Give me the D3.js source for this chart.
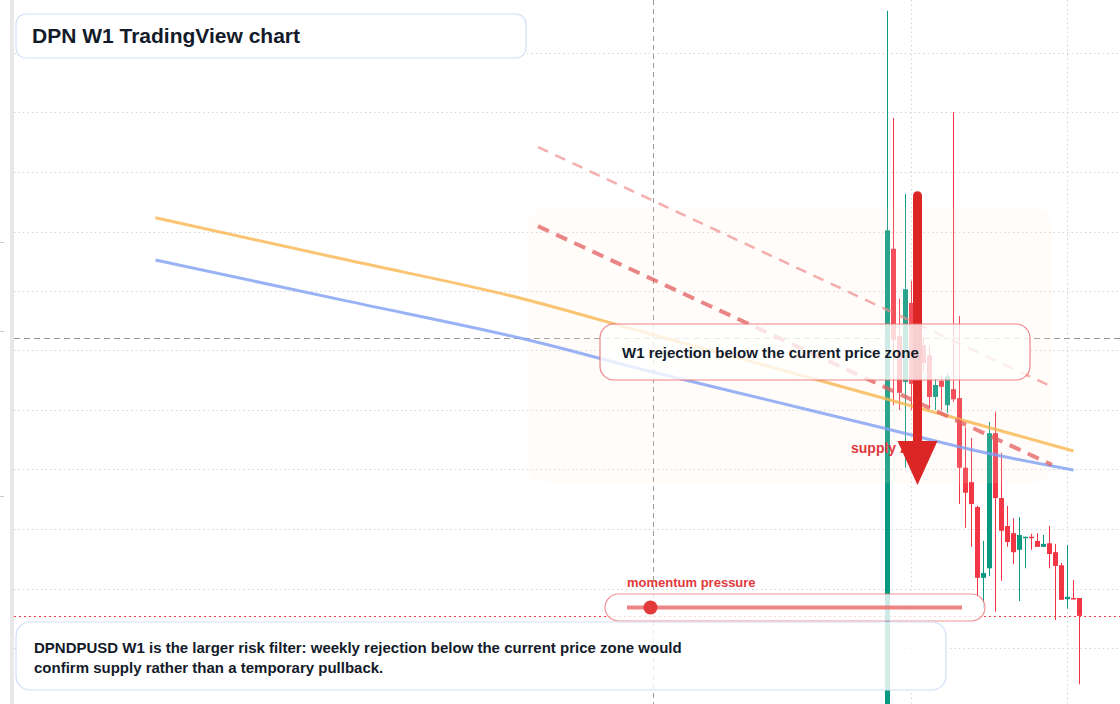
<!DOCTYPE html>
<html>
<head>
<meta charset="utf-8">
<script src="https://cdn.jsdelivr.net/npm/d3@7"></script>
<style>
  body { margin: 0; background: #fff; }
  svg { display: block; font-family: "Liberation Sans", Arial, sans-serif; }
</style>
</head>
<body>
<script>
// weekly candles, index 0 = first listed week
var opens  = [0.0050, 0.0871, 0.0724, 0.0647, 0.0780, 0.0644, 0.0709, 0.0692, 0.0622, 0.0649, 0.0608,
              0.0635, 0.0620, 0.0503, 0.0479, 0.0437, 0.0318, 0.0334, 0.0561, 0.0452, 0.0405, 0.0393,
              0.0365, 0.0385, 0.0387, 0.0380, 0.0370, 0.0376, 0.0361, 0.0339, 0.0282, 0.0284, 0.0284];
var highs  = [0.1271, 0.1091, 0.0787, 0.0963, 0.0817, 0.0730, 0.0721, 0.0709, 0.0654, 0.0659, 0.0662,
              0.1101, 0.0758, 0.0571, 0.0553, 0.0439, 0.0380, 0.0580, 0.0597, 0.0528, 0.0439, 0.0418,
              0.0420, 0.0387, 0.0392, 0.0393, 0.0390, 0.0405, 0.0375, 0.0343, 0.0373, 0.0314, 0.0284];
var lows   = [0.0040, 0.0608, 0.0600, 0.0503, 0.0600, 0.0620, 0.0664, 0.0603, 0.0600, 0.0600, 0.0595,
              0.0613, 0.0442, 0.0402, 0.0370, 0.0286, 0.0267, 0.0321, 0.0261, 0.0313, 0.0370, 0.0341,
              0.0279, 0.0334, 0.0365, 0.0370, 0.0370, 0.0334, 0.0247, 0.0281, 0.0266, 0.0282, 0.0139];
var closes = [0.0902, 0.0718, 0.0629, 0.0803, 0.0644, 0.0709, 0.0679, 0.0622, 0.0642, 0.0639, 0.0657,
              0.0618, 0.0503, 0.0461, 0.0442, 0.0318, 0.0326, 0.0561, 0.0452, 0.0397, 0.0378, 0.0361,
              0.0390, 0.0387, 0.0385, 0.0370, 0.0375, 0.0358, 0.0338, 0.0281, 0.0286, 0.0282, 0.0254];

// moving averages sampled at bar index
var maIndex  = [-122, -90, -60, -40, -20, 0, 15, 31];
var maOrange = [0.0923, 0.0852, 0.0785, 0.0729, 0.0674, 0.0618, 0.0576, 0.0531];
var maBlue   = [0.0852, 0.0783, 0.0718, 0.0666, 0.0617, 0.0568, 0.0531, 0.0499];

// descending trend lines [index, price]
var trendOuter = [[-58.25, 0.1042], [27.4, 0.0639]];
var trendInner = [[-58.25, 0.0909], [27.4, 0.0508]];

// supply zone [index0, index1], [priceTop, priceBottom]
var zoneIndex = [-60.1, 27.4];
var zonePrice = [0.0941, 0.0477];

var gridPrices = [0.02, 0.03, 0.04, 0.05, 0.06, 0.07, 0.08, 0.09, 0.10, 0.11, 0.12];
var gridBars = [4, 30];
var axisTicks = [0.0882, 0.0733, 0.0455];
var crossBar = -39, crossPrice = 0.0721;
var arrowBar = 5, arrowFrom = 0.0960, arrowTo = 0.0474;
var momentumValue = 0.07;

var noteLines = ["DPNDPUSD W1 is the larger risk filter: weekly rejection below the current price zone would",
                 "confirm supply rather than a temporary pullback."];

//positioning/sizing
var svg_dx = 1120, svg_dy = 704;

var x = d3.scaleLinear().domain([0, 32]).range([887.5, 1079.5]),
    y = d3.scaleLinear().domain([0.02, 0.12]).range([648, 53]);

var green = "#089981", red = "#f23645", ink = "#131b2a";

var svg = d3.select("body").append("svg")
    .attr("width", svg_dx)
    .attr("height", svg_dy);

svg.append("rect").attr("width", svg_dx).attr("height", svg_dy).attr("fill", "#fff");

// left price axis edge
svg.append("rect").attr("x", 10).attr("y", 0).attr("width", 4).attr("height", svg_dy).attr("fill", "#e8e8e8");
svg.append("g").selectAll("line").data(axisTicks).enter().append("line")
   .attr("x1", 0).attr("x2", 4)
   .attr("y1", d => Math.round(y(d)) + 0.5).attr("y2", d => Math.round(y(d)) + 0.5)
   .attr("stroke", "#c8c8c8");

// grid
var grid = svg.append("g").attr("stroke", "#d4d4d4").attr("stroke-dasharray", "1.5,3");
grid.selectAll(".gh").data(gridPrices).enter().append("line")
    .attr("x1", 14).attr("x2", svg_dx)
    .attr("y1", d => Math.round(y(d)) + 0.5).attr("y2", d => Math.round(y(d)) + 0.5);
grid.selectAll(".gv").data(gridBars).enter().append("line")
    .attr("x1", d => x(d)).attr("x2", d => x(d))
    .attr("y1", 0).attr("y2", svg_dy);

// crosshair
svg.append("line")
   .attr("x1", x(crossBar)).attr("x2", x(crossBar)).attr("y1", 0).attr("y2", svg_dy)
   .attr("stroke", "#9a9a9a").attr("stroke-dasharray", "5,4");
svg.append("line")
   .attr("x1", 14).attr("x2", svg_dx)
   .attr("y1", Math.round(y(crossPrice)) + 0.5).attr("y2", Math.round(y(crossPrice)) + 0.5)
   .attr("stroke", "#9a9a9a").attr("stroke-dasharray", "6,4");

// current price line
var last = closes[closes.length - 1];
svg.append("line")
   .attr("x1", 14).attr("x2", svg_dx)
   .attr("y1", Math.round(y(last)) + 0.5).attr("y2", Math.round(y(last)) + 0.5)
   .attr("stroke", red).attr("stroke-dasharray", "2,3");

// candles
var bars = d3.range(opens.length);
var candles = svg.append("g").selectAll("g").data(bars).enter().append("g")
    .attr("fill", i => closes[i] >= opens[i] ? green : red)
    .attr("stroke", i => closes[i] >= opens[i] ? green : red);

candles.append("line")
    .attr("x1", i => x(i)).attr("x2", i => x(i))
    .attr("y1", i => y(highs[i])).attr("y2", i => y(lows[i]));

candles.append("rect")
    .attr("stroke", "none")
    .attr("x", i => x(i) - 2.5).attr("width", 5)
    .attr("y", i => y(Math.max(opens[i], closes[i])))
    .attr("height", i => Math.max(1.5, Math.abs(y(opens[i]) - y(closes[i]))));

// supply zone (washes over the candles)
svg.append("rect")
   .attr("x", x(zoneIndex[0])).attr("width", x(zoneIndex[1]) - x(zoneIndex[0]))
   .attr("y", y(zonePrice[0])).attr("height", y(zonePrice[1]) - y(zonePrice[0]))
   .attr("rx", 20)
   .attr("fill", "#ffe9da").attr("fill-opacity", 0.14);

// moving averages
var maLine = d3.line().curve(d3.curveMonotoneX).x(d => x(d[0])).y(d => y(d[1]));
svg.append("path").datum(d3.zip(maIndex, maOrange)).attr("d", maLine)
   .attr("fill", "none").attr("stroke", "#f9b54f").attr("stroke-opacity", 0.8).attr("stroke-width", 3);
svg.append("path").datum(d3.zip(maIndex, maBlue)).attr("d", maLine)
   .attr("fill", "none").attr("stroke", "#7f9ff3").attr("stroke-opacity", 0.8).attr("stroke-width", 3);

// trend lines
var trend = d3.line().x(d => x(d[0])).y(d => y(d[1]));
svg.append("path").datum(trendOuter).attr("d", trend)
   .attr("fill", "none").attr("stroke", "#f08c8c").attr("stroke-opacity", 0.7)
   .attr("stroke-width", 2.5).attr("stroke-dasharray", "11,8");
svg.append("path").datum(trendInner).attr("d", trend)
   .attr("fill", "none").attr("stroke", "#e35d5d").attr("stroke-opacity", 0.75)
   .attr("stroke-width", 4).attr("stroke-dasharray", "12,8");

// supply zone label
svg.append("text")
   .attr("x", x(arrowBar) - 66.5).attr("y", y(arrowTo) - 32)
   .attr("fill", "#e0393e").attr("font-size", 14).attr("font-weight", "bold")
   .text("supply zone");

// arrow
var ax = x(arrowBar), headTop = y(arrowTo) - 44;
svg.append("line")
   .attr("x1", ax).attr("x2", ax).attr("y1", y(arrowFrom)).attr("y2", headTop + 4)
   .attr("stroke", "#dc2626").attr("stroke-width", 9).attr("stroke-linecap", "round");
svg.append("path")
   .attr("d", d3.line()([[ax - 20, headTop], [ax + 20, headTop], [ax, y(arrowTo)]]) + "Z")
   .attr("fill", "#dc2626");

// rejection callout
svg.append("rect")
   .attr("x", 600).attr("y", 324).attr("width", 430).attr("height", 56).attr("rx", 14)
   .attr("fill", "#fff").attr("fill-opacity", 0.78)
   .attr("stroke", "#ec6f74").attr("stroke-opacity", 0.85).attr("stroke-width", 1.2);
svg.append("text")
   .attr("x", 622).attr("y", 358)
   .attr("fill", ink).attr("font-size", 15).attr("font-weight", "bold")
   .text("W1 rejection below the current price zone");

// momentum gauge
var m = d3.scaleLinear().domain([0, 1]).range([627, 962]);
svg.append("text")
   .attr("x", m(0)).attr("y", 587)
   .attr("fill", "#e0393e").attr("font-size", 13).attr("font-weight", "bold")
   .text("momentum pressure");
svg.append("rect")
   .attr("x", 605).attr("y", 594).attr("width", 380).attr("height", 27).attr("rx", 13.5)
   .attr("fill", "#fff").attr("fill-opacity", 0.8)
   .attr("stroke", "#ec6f74").attr("stroke-opacity", 0.75).attr("stroke-width", 1.2);
svg.append("line")
   .attr("x1", m(0)).attr("x2", m(1)).attr("y1", 607.5).attr("y2", 607.5)
   .attr("stroke", "#ea7070").attr("stroke-opacity", 0.85).attr("stroke-width", 4);
svg.append("circle")
   .attr("cx", m(momentumValue)).attr("cy", 607.5).attr("r", 7)
   .attr("fill", "#e23a3a");

// note box
svg.append("rect")
   .attr("x", 16).attr("y", 622).attr("width", 930).attr("height", 68).attr("rx", 14)
   .attr("fill", "#fff").attr("fill-opacity", 0.82)
   .attr("stroke", "#cfdff8").attr("stroke-width", 1.2);
svg.append("g").selectAll("text").data(noteLines).enter().append("text")
   .attr("x", 34).attr("y", (d, i) => 653 + i * 20)
   .attr("fill", ink).attr("font-size", 15).attr("font-weight", "bold")
   .text(d => d);

// title
svg.append("rect")
   .attr("x", 16).attr("y", 14).attr("width", 510).attr("height", 44).attr("rx", 10)
   .attr("fill", "#fff")
   .attr("stroke", "#cfdff8").attr("stroke-width", 1.2);
svg.append("text")
   .attr("x", 32).attr("y", 43)
   .attr("fill", ink).attr("font-size", 21).attr("font-weight", "bold")
   .text("DPN W1 TradingView chart");
</script>
</body>
</html>
